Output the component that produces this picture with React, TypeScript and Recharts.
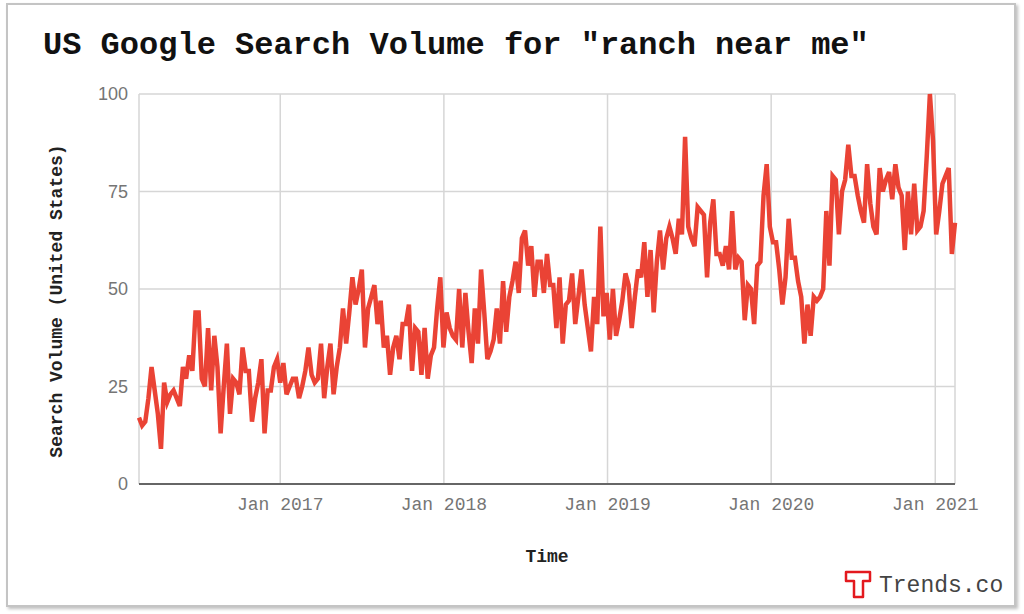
import { LineChart, Line, XAxis, YAxis, CartesianGrid } from 'recharts'

// weekly Google Trends index, first week starts 2016-02-21
const weekly2016 = [
  17, 15, 16, 22, 30, 24, 18, 9, 26, 21,
  23, 24, 22, 20, 30, 27, 33, 29, 44, 44,
  27, 25, 40, 24, 38, 30, 13, 25, 36, 18,
  27, 26, 23, 35, 29, 29, 16, 22, 26, 32,
  13, 24, 24, 30, 32,
]
const weekly2017 = [
  26, 31, 23, 25, 27, 27, 22, 25, 29, 35,
  28, 26, 27, 36, 22, 30, 36, 23, 30, 35,
  45, 36, 44, 53, 46, 50, 55, 35, 45, 48,
  51, 41, 47, 35, 38, 28, 35, 38, 32, 41,
  41, 46, 29, 40, 39, 28, 40, 27, 33, 35,
  45, 53,
]
const weekly2018 = [
  35, 44, 40, 38, 37, 50, 35, 49, 39, 31,
  45, 36, 55, 44, 32, 34, 37, 45, 36, 52,
  39, 48, 52, 57, 49, 63, 65, 56, 61, 48,
  57, 57, 49, 59, 51, 51, 40, 53, 36, 46,
  47, 54, 41, 48, 55, 46, 40, 34, 48, 41,
  66, 43,
]
const weekly2019 = [
  49, 37, 50, 38, 42, 47, 54, 51, 40, 48,
  55, 53, 62, 48, 60, 44, 57, 65, 55, 63,
  66, 63, 59, 68, 64, 89, 66, 63, 61, 71,
  70, 69, 53, 67, 73, 59, 59, 56, 61, 55,
  70, 55, 58, 57, 42, 51, 50, 41, 56, 57,
  74, 82,
]
const weekly2020 = [
  66, 62, 62, 55, 46, 53, 68, 58, 58, 52,
  48, 36, 46, 38, 48, 47, 48, 50, 70, 56,
  79, 78, 64, 75, 78, 87, 79, 79, 74, 70,
  67, 82, 72, 66, 64, 81, 75, 78, 80, 73,
  82, 76, 74, 60, 75, 64, 77, 65, 66, 70,
  84, 100, 88,
]
const weekly2021 = [64, 70, 77, 79, 81, 59, 67]

const yTicks = [0, 25, 50, 75, 100]
const yearTicks = [2017, 2018, 2019, 2020, 2021]

const START = Date.UTC(2016, 1, 21)
const WEEK = 7 * 24 * 3600 * 1000

const values = [...weekly2016, ...weekly2017, ...weekly2018, ...weekly2019, ...weekly2020, ...weekly2021]
const data = values.map((v, i) => ({ t: START + i * WEEK, v }))
const xTicks = yearTicks.map((y) => Date.UTC(y, 0, 1))

const MONO = "'Liberation Mono', 'Courier New', monospace"
const SANS = "'Liberation Sans', Arial, sans-serif"

export default function App() {
  return (
    <div style={{ position: 'absolute', left: 0, top: 0, width: 1024, height: 614, background: '#fff' }}>
      <div style={{
        position: 'absolute', left: 6, top: 3, width: 1006, height: 600,
        border: '2px solid #c4c4c4', boxShadow: '2px 2px 3px rgba(0,0,0,0.25)', background: '#fff',
      }} />
      <div style={{ position: 'absolute', left: 0, top: 0 }}>
        <LineChart width={1024} height={614} data={data} margin={{ top: 94, right: 69, bottom: 100, left: 79 }}>
          <CartesianGrid stroke="#d6d6d6" strokeWidth={1.5} />
          <XAxis
            dataKey="t"
            type="number"
            domain={[data[0].t, data[data.length - 1].t]}
            ticks={xTicks}
            tickFormatter={(t) => `Jan ${new Date(t).getUTCFullYear()}`}
            height={30}
            tickLine={false}
            tickSize={6}
            tickMargin={7}
            axisLine={{ stroke: '#666', strokeWidth: 2 }}
            tick={{ fontSize: 18, fill: '#757575', fontFamily: MONO }}
          />
          <YAxis
            domain={[0, 100]}
            ticks={yTicks}
            width={60}
            axisLine={false}
            tickLine={false}
            tickSize={6}
            tickMargin={5}
            tick={{ fontSize: 18, fill: '#757575', fontFamily: SANS }}
          />
          <Line type="linear" dataKey="v" stroke="#ea4335" strokeWidth={4.5} dot={false} isAnimationActive={false} />
        </LineChart>
      </div>
      <svg width={1024} height={614} style={{ position: 'absolute', left: 0, top: 0, pointerEvents: 'none' }}>
        <text x={43} y={54} fontFamily={MONO} fontWeight="bold" fontSize={32} fill="#111">
          US Google Search Volume for "ranch near me"
        </text>
        <text transform="translate(62,301) rotate(-90)" textAnchor="middle" fontFamily={MONO} fontWeight="bold" fontSize={18} fill="#222">
          Search Volume (United States)
        </text>
        <text x={547} y={562} textAnchor="middle" fontFamily={MONO} fontWeight="bold" fontSize={18} fill="#222">
          Time
        </text>
        <path d="M846,572 H870 V581 H863 V597 H854 V581 H846 Z" fill="none" stroke="#e3191e" strokeWidth={2.5} strokeLinejoin="round" />
        <text x={879} y={592} fontFamily={MONO} fontSize={23} fill="#444">
          Trends.co
        </text>
      </svg>
    </div>
  )
}
